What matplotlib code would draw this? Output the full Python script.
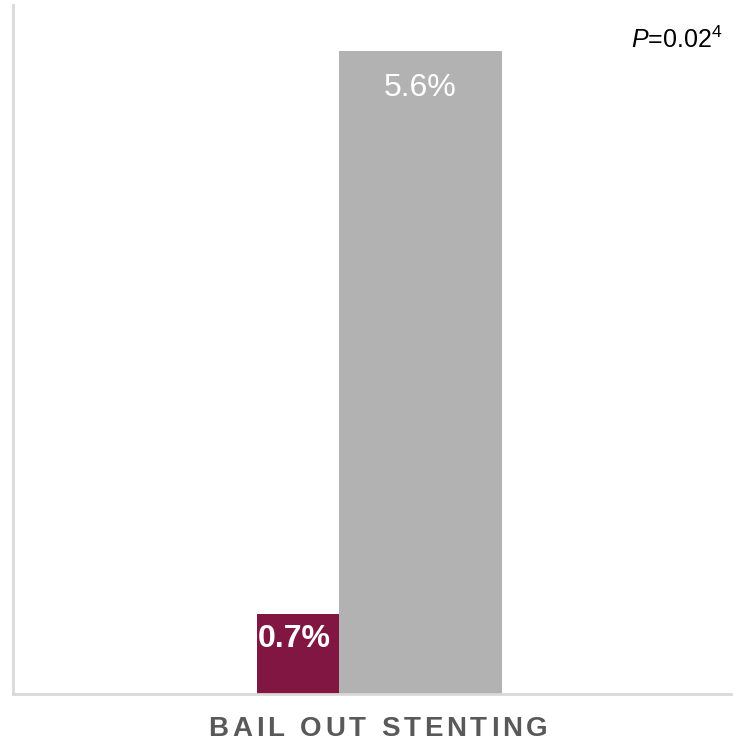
import matplotlib.pyplot as plt

plt.rcParams['font.family'] = ['Liberation Sans', 'DejaVu Sans']
plt.rcParams['mathtext.fontset'] = 'custom'
plt.rcParams['mathtext.rm'] = 'Liberation Sans'
plt.rcParams['mathtext.it'] = 'Liberation Sans:italic'

# data
category = "BAIL OUT STENTING"
series_names = ["Treatment", "Control"]
values = [0.7, 5.6]
value_labels = ["0.7%", "5.6%"]
bar_colors = ["#801641", "#b2b2b2"]
p_value = "0.02"
p_ref = "4"

# bar geometry (axis units)
bar_left = [0.339, 0.453]
bar_width = [0.114, 0.226]

fig = plt.figure(figsize=(7.33, 7.46), dpi=100)
ax = fig.add_axes([13 / 733, 1 - 694 / 746, 720 / 733, 689 / 746])

bars = ax.bar(bar_left, values, width=bar_width, align="edge",
              color=bar_colors, linewidth=0)

ax.set_xlim(0, 1)
ax.set_ylim(0, 6.0)

for spine in ["top", "right"]:
    ax.spines[spine].set_visible(False)
for spine in ["left", "bottom"]:
    ax.spines[spine].set_color("#d9d9d9")
    ax.spines[spine].set_linewidth(2)
ax.set_xticks([])
ax.set_yticks([])

# value labels inside the top of each bar
ax.text(bar_left[0] + 0.001, values[0] - 0.22, value_labels[0],
        ha="left", va="center", color="white", fontsize=23, fontweight="bold")
ax.text(bar_left[1] + bar_width[1] / 2, values[1] - 0.32, value_labels[1],
        ha="center", va="center", color="white", fontsize=23)

ax.text(0.986, 0.95, r"$\it{P}$=" + p_value + r"$^{" + p_ref + "}$",
        transform=ax.transAxes, ha="right", va="center", fontsize=18)


def spaced_text(fig, s, xc, y, spacing, **kw):
    """Draw s centred on xc with extra letter spacing (pixels)."""
    renderer = fig.canvas.get_renderer()
    size_px = kw["fontsize"] * fig.dpi / 72
    pieces = []
    x = 0
    for ch in s:
        if ch == " ":
            x += 0.278 * size_px + spacing
            continue
        t = fig.text(0, y, ch, ha="left", va="center", **kw)
        w = t.get_window_extent(renderer).width
        pieces.append((t, x))
        x += w + spacing
    total = x - spacing
    x0 = xc * fig.bbox.width - total / 2
    for t, dx in pieces:
        t.set_x((x0 + dx) / fig.bbox.width)


spaced_text(fig, category, 378 / 733, 1 - 729 / 746, 3.8,
            fontsize=20, fontweight="bold", color="#595959")

plt.savefig("out.png")
plt.close()
